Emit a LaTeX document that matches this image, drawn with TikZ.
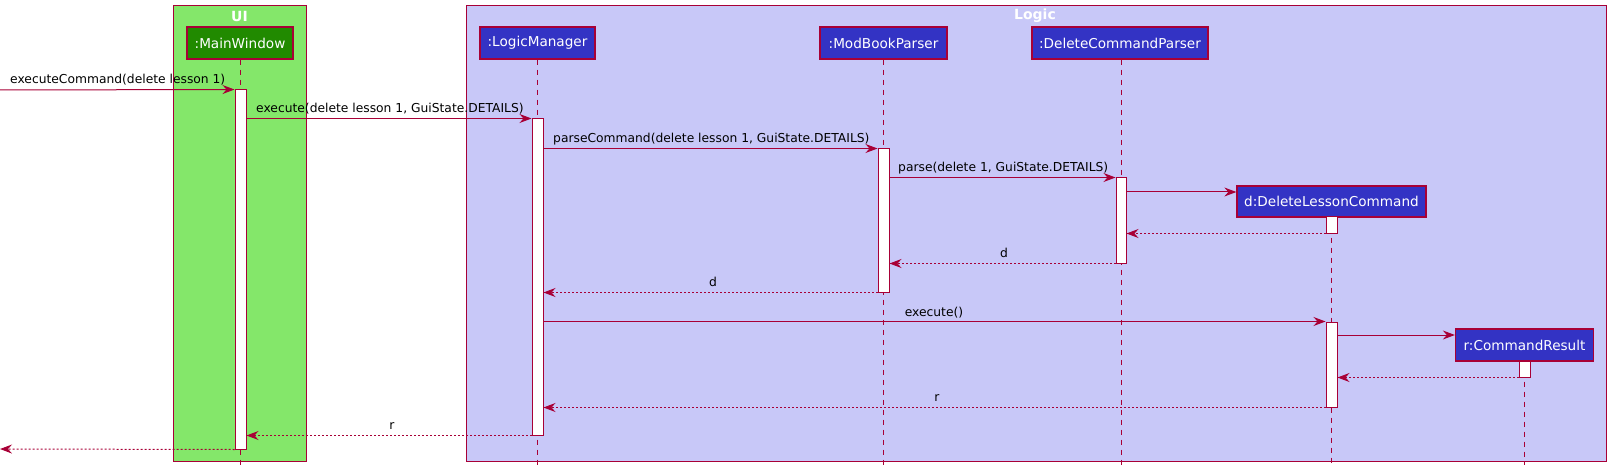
\documentclass[tikz,border=0pt]{standalone}
\usepackage{fontspec}
\setmainfont{DejaVu Sans}
\usetikzlibrary{arrows.meta}
\definecolor{bord}{HTML}{A80036}
\definecolor{uifill}{HTML}{84E76A}
\definecolor{logicfill}{HTML}{C8C8F8}
\definecolor{partfill}{HTML}{3333C4}
\definecolor{mwfill}{HTML}{218A00}
\tikzset{
  grp/.style={draw=bord, line width=1pt},
  grptitle/.style={text=white, font=\fontsize{14}{16}\selectfont\bfseries, inner sep=0pt},
  part/.style={draw=bord, fill=partfill, line width=1.3pt, text=white, minimum height=32pt, inner sep=0pt, font=\fontsize{13.6}{16}\selectfont},
  act/.style={draw=bord, fill=white, line width=1pt, minimum width=11pt, inner sep=0pt},
  life/.style={draw=bord, line width=0.9pt, dash pattern=on 5pt off 5pt},
  msg/.style={draw=bord, line width=1pt, -{Stealth[length=12pt,width=9pt,inset=4pt]}},
  ret/.style={msg, dash pattern=on 2pt off 2pt},
  lbl/.style={font=\fontsize{12.3}{14}\selectfont, inner sep=0pt, text=black}
}
\begin{document}
\begin{tikzpicture}[x=1pt,y=-1pt]
\useasboundingbox (0,0) rectangle (1611,473);
% groups
\draw[grp, fill=uifill] (173,6) rectangle (306,461);
\draw[grp, fill=logicfill] (466,6) rectangle (1606,461);
\node[grptitle] (uit) at (239.5,16) {UI};
\node[grptitle] (logt) at (1035,16) {Logic};
% participants
\node[part, fill=mwfill, minimum width=106pt] (mw) at (240,43) {:MainWindow};
\node[part, minimum width=115pt] (lm) at (537.5,43) {:LogicManager};
\node[part, minimum width=127pt] (mbp) at (883.5,43) {:ModBookParser};
\node[part, minimum width=176pt] (dcp) at (1120,43) {:DeleteCommandParser};
\node[part, minimum width=189pt, minimum height=31pt] (dlc) at (1331.5,201.5) {d:DeleteLessonCommand};
\node[part, minimum width=138pt] (cr) at (1524.5,345) {r:CommandResult};
% lifeline ends
\coordinate (mwE) at (240.5,465);
\coordinate (lmE) at (537.5,465);
\coordinate (mbpE) at (883.5,465);
\coordinate (dcpE) at (1121,465);
\coordinate (dlcE) at (1331.5,465);
\coordinate (crE) at (1524.5,465);
\draw[life] (mw.south -| mwE) -- (mwE);
\draw[life] (lm.south) -- (lmE);
\draw[life] (mbp.south) -- (mbpE);
\draw[life] (dcp.south -| dcpE) -- (dcpE);
\draw[life] (dlc.south) -- (dlcE);
\draw[life] (cr.south) -- (crE);
% activations
\node[act, minimum height=359pt] (mwA) at (240.5,269.5) {};
\node[act, minimum height=316pt] (lmA) at (537.5,277) {};
\node[act, minimum height=143pt] (mbpA) at (883.5,220.5) {};
\node[act, minimum height=85pt, minimum width=10pt] (dcpA) at (1121,220.5) {};
\node[act, minimum height=16pt] (dlcA1) at (1331.5,225) {};
\node[act, minimum height=85pt] (dlcA2) at (1331.5,364.5) {};
\node[act, minimum height=16pt] (crA) at (1524.5,369) {};
% free ends
\coordinate (start) at (0,90);
\coordinate (finish) at (0,449);
% messages
\draw[msg] (start) -- (mwA.north west);
\node[lbl, anchor=base west] (l1) at (10,84) {executeCommand(delete lesson 1)};
\draw[msg] (mwA.east |- lmA.north) -- (lmA.north west);
\node[lbl, anchor=base west] (l2) at (256,113) {execute(delete lesson 1, GuiState.DETAILS)};
\draw[msg] (lmA.east |- mbpA.north) -- (mbpA.north west);
\node[lbl, anchor=base west] (l3) at (553,143) {parseCommand(delete lesson 1, GuiState.DETAILS)};
\draw[msg] (mbpA.east |- dcpA.north) -- (dcpA.north west);
\node[lbl, anchor=base west] (l4) at (898,172) {parse(delete 1, GuiState.DETAILS)};
\draw[msg] (dcpA.east |- 0,192) -- (dlc.west |- 0,192);
\draw[ret] (dlcA1.south west) -- (dcpA.east |- dlcA1.south);
\draw[ret] (dcpA.south west) -- (mbpA.east |- dcpA.south);
\node[lbl, anchor=base] (l5) at (1004,257) {d};
\draw[ret] (mbpA.south west) -- (lmA.east |- mbpA.south);
\node[lbl, anchor=base] (l6) at (713,286) {d};
\draw[msg] (lmA.east |- dlcA2.north) -- (dlcA2.north west);
\node[lbl, anchor=base] (l7) at (934,316) {execute()};
\draw[msg] (dlcA2.east |- 0,335) -- (cr.west |- 0,335);
\draw[ret] (crA.south west) -- (dlcA2.east |- crA.south);
\draw[ret] (dlcA2.south west) -- (lmA.east |- dlcA2.south);
\node[lbl, anchor=base] (l8) at (937,401) {r};
\draw[ret] (lmA.south west) -- (mwA.east |- lmA.south);
\node[lbl, anchor=base] (l9) at (392,429) {r};
\draw[ret] (mwA.south west) -- (finish);
\end{tikzpicture}
\end{document}
